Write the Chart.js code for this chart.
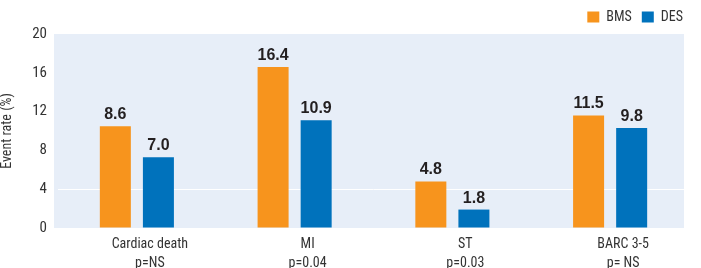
<!DOCTYPE html>
<html>
<head>
<meta charset="utf-8">
<script src="https://cdn.jsdelivr.net/npm/chart.js@4"></script>
<style>
  html, body { margin: 0; padding: 0; background: #fff; }
  #wrap { width: 701px; height: 268px; }
</style>
</head>
<body>
<div id="wrap"><canvas id="c" width="701" height="268"></canvas></div>
<script>
// chart data
var categories = ['Cardiac death', 'MI', 'ST', 'BARC 3-5'];
var pValues = ['p=NS', 'p=0.04', 'p=0.03', 'p= NS'];
var bmsValues = [10.5, 16.6, 4.8, 11.6];
var desValues = [7.3, 11.1, 1.9, 10.3];
var bmsLabels = ['8.6', '16.4', '4.8', '11.5'];
var desLabels = ['7.0', '10.9', '1.8', '9.8'];
var yTicks = [0, 4, 8, 12, 16, 20];

var FONT = "'Roboto Condensed', 'DejaVu Sans Condensed', sans-serif";
var ORANGE = '#F7941D';
var BLUE = '#0072BC';

// light panel behind the bars (a bit wider on the left than the category band)
var plotBg = {
  id: 'plotBg',
  beforeDraw: function(chart) {
    var a = chart.chartArea, ctx = chart.ctx;
    ctx.save();
    ctx.fillStyle = '#E7EEF8';
    ctx.fillRect(a.left - 4, a.top, a.right - a.left - 1, a.bottom - a.top);
    ctx.restore();
  }
};

// push legend flush to the right edge
var legendShift = {
  id: 'legendShift',
  afterLayout: function(chart) {
    if (chart.legend) { chart.legend.left += 4; chart.legend.right += 4; }
  }
};

var barLabels = {
  id: 'barLabels',
  afterDatasetsDraw: function(chart) {
    var ctx = chart.ctx;
    var texts = [bmsLabels, desLabels];
    ctx.save();
    ctx.font = "bold 16px 'Liberation Sans', Arial, sans-serif";
    ctx.fillStyle = '#231F20';
    ctx.textAlign = 'center';
    ctx.textBaseline = 'alphabetic';
    chart.data.datasets.forEach(function(ds, i) {
      chart.getDatasetMeta(i).data.forEach(function(el, j) {
        ctx.fillText(texts[i][j], el.x, el.y - 7);
      });
    });
    ctx.restore();
  }
};

new Chart(document.getElementById('c'), {
  type: 'bar',
  data: {
    labels: categories.map(function(c, i) { return [c, pValues[i]]; }),
    datasets: [
      { label: 'BMS', data: bmsValues, backgroundColor: ORANGE },
      { label: 'DES', data: desValues, backgroundColor: BLUE }
    ]
  },
  options: {
    responsive: false,
    animation: false,
    events: [],
    layout: { padding: { left: 0, right: 12, top: 0, bottom: 0 } },
    datasets: { bar: { categoryPercentage: 0.546, barPercentage: 0.72 } },
    plugins: {
      tooltip: { enabled: false },
      legend: {
        position: 'top',
        align: 'end',
        labels: {
          boxWidth: 12,
          boxHeight: 11,
          padding: 10,
          color: '#333',
          font: { family: FONT, size: 14 }
        }
      }
    },
    scales: {
      x: {
        grid: { display: false, drawTicks: false },
        border: { display: false },
        ticks: {
          color: '#333',
          padding: 7,
          labelOffset: 13,
          maxRotation: 0,
          font: { family: FONT, size: 14, lineHeight: 1.35 }
        },
        afterFit: function(s) { s.height = 40; }
      },
      y: {
        min: 0,
        max: 20,
        afterBuildTicks: function(s) { s.ticks = yTicks.map(function(v) { return { value: v }; }); },
        grid: {
          drawTicks: false,
          color: function(ctx) { return ctx.tick && ctx.tick.value === 4 ? '#FFFFFF' : 'rgba(0,0,0,0)'; },
          lineWidth: 1
        },
        border: { display: false },
        ticks: {
          color: '#333',
          padding: 11,
          font: { family: FONT, size: 15 }
        },
        title: {
          display: true,
          text: 'Event rate (%)',
          color: '#333',
          padding: 0,
          font: { family: FONT, size: 14, lineHeight: 1 }
        },
        afterFit: function(s) { s.width = 58; }
      }
    }
  },
  plugins: [plotBg, legendShift, barLabels]
});
</script>
</body>
</html>
